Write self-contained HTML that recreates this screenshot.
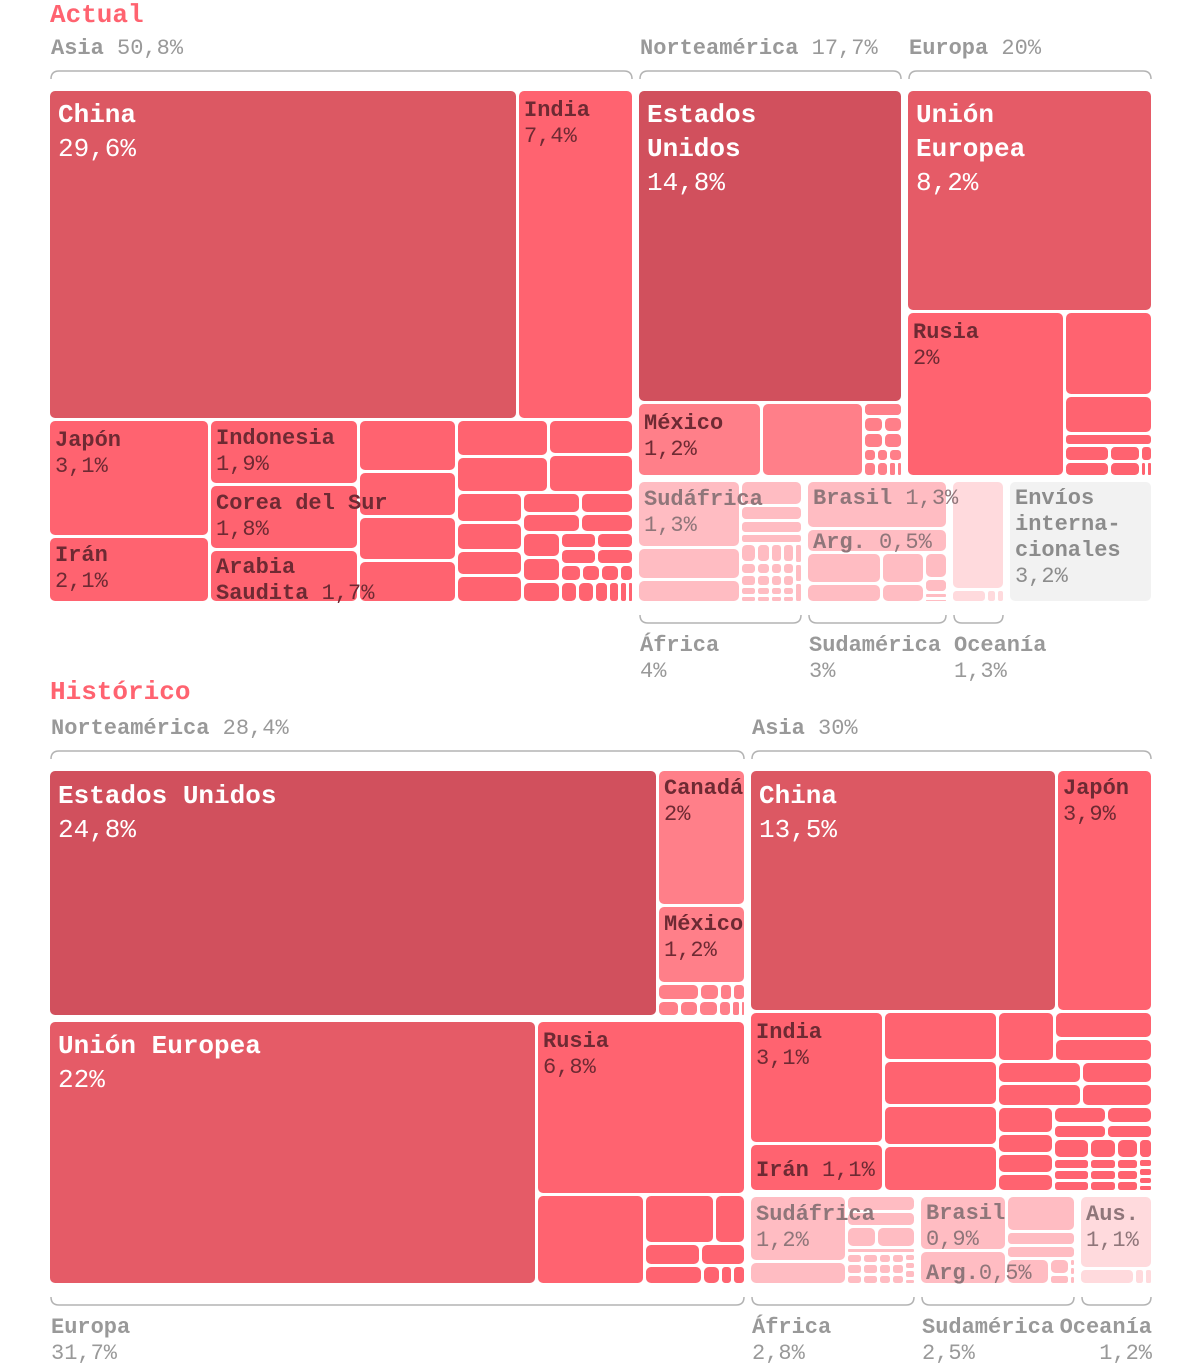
<!DOCTYPE html>
<html><head><meta charset="utf-8">
<style>
html,body{margin:0;padding:0;background:#fff;}
#wrap{position:relative;width:1201px;height:1368px;overflow:hidden;font-family:"Liberation Mono","DejaVu Sans Mono",monospace;}
.cell{position:absolute;box-sizing:border-box;}
.lab{position:absolute;white-space:nowrap;z-index:3;}
.lab b{font-weight:bold;}
.lab span{font-weight:normal;}
.title{position:absolute;left:50px;font-size:26px;font-weight:bold;color:#ff6370;line-height:30px;}
.glab{position:absolute;font-size:22px;color:#999;line-height:26px;white-space:nowrap;}
.glab b{font-weight:bold;}
svg{position:absolute;left:0;top:0;}
</style></head>
<body>
<div id="wrap">
  <div class="title" style="top:0px">Actual</div>
  <div class="title" style="top:677px">Histórico</div>
  <svg id="br" width="1201" height="1368"></svg>
</div>
<script>
// ---- colors ----
const colorMap = {d1:'#d1505d', d2:'#dc5863', d3:'#e55b67', p:'#ff6370', m:'#ff7f89', l:'#ffbcc2', ll:'#ffdadd', g:'#f2f2f2'};
const textMap = {w:'#ffffff', d:'#6e2a33', g:'#8f767a', n:'#8c8c8c'};
// ---- helpers building tree ----
function L(w,c,lab,o){return Object.assign({w:w,c:c,lab:lab},o||{});}
function H(w,k,o){return Object.assign({d:'h',w:w,k:k},o||{});}
function V(w,k,o){return Object.assign({d:'v',w:w,k:k},o||{});}
function lb(fs,col,lines,dy){return {fs:fs,col:col,lines:lines,dy:dy||0};}

// ---- group labels (data) ----
const actualGroups = [
  {name:'Asia', pct:'50,8%', pos:'top'},
  {name:'Norteamérica', pct:'17,7%', pos:'top'},
  {name:'Europa', pct:'20%', pos:'top'},
  {name:'África', pct:'4%', pos:'bottom'},
  {name:'Sudamérica', pct:'3%', pos:'bottom'},
  {name:'Oceanía', pct:'1,3%', pos:'bottom'}
];
const histGroups = [
  {name:'Norteamérica', pct:'28,4%', pos:'top'},
  {name:'Europa', pct:'31,7%', pos:'bottom'},
  {name:'Asia', pct:'30%', pos:'top'},
  {name:'África', pct:'2,8%', pos:'bottom'},
  {name:'Sudamérica', pct:'2,5%', pos:'bottom'},
  {name:'Oceanía', pct:'1,2%', pos:'bottom', right:true}
];

// ---- Actual tree (layout weights) ----
const actualTree = H(0,[
  V(589,[
    H(330,[L(469,'d2',lb(26,'w',[['China'],['','29,6%']])), L(116,'p',lb(22,'d',[['India'],['','7,4%']]))]),
    H(183,[
      V(161,[L(117,'p',lb(22,'d',[['Japón'],['','3,1%']])), L(66,'p',lb(22,'d',[['Irán'],['','2,1%']],-2))]),
      V(149,[L(65,'p',lb(22,'d',[['Indonesia'],['','1,9%']],-2)), L(65,'p',lb(22,'d',[['Corea del Sur'],['','1,8%']],-2)), L(53,'p',lb(22,'d',[['Arabia'],['Saudita',' 1,7%']],-3))]),
      V(98,[L(52),L(45),L(44),L(42)]),
      V(177,[
        H(73,[V(92,[L(37),L(36)]), V(85,[L(35),L(38)])]),
        H(110,[
          V(66,[L(30),L(28),L(25),L(27)]),
          V(111,[
            H(40,[V(57,[L(20),L(19)]),V(52,[L(20),L(19)])]),
            H(70,[V(37,[L(25),L(24),L(21)]), V(72,[H(16,[L(37),L(37)]),H(16,[L(37),L(37)]),H(17,[L(15),L(13),L(13),L(10)]),H(21,[L(12),L(12),L(10),L(8),L(6),L(4)])])])
          ])
        ])
      ])
    ])
  ],{pad:1,g:actualGroups[0],c:'p'}),
  V(519,[
    H(391,[
      V(269,[L(313,'d1',lb(26,'w',[['Estados'],['Unidos'],['','14,8%']])),
             H(74,[L(124,'m',lb(22,'d',[['México'],['','1,2%']])),L(102),
                   V(39,[L(13),H(15,[L(18),L(18)]),H(14,[L(18),L(18)]),H(12,[L(12),L(12),L(13)]),H(14,[L(12),L(12),L(7),L(6)])])])
      ],{pad:1,g:actualGroups[1],c:'m'}),
      V(250,[L(222,'d3',lb(26,'w',[['Unión'],['Europea'],['','8,2%']])),
             H(165,[L(158,'p',lb(22,'d',[['Rusia'],['','2%']])),
                    V(88,[L(82),L(38),L(12),H(15,[L(40),L(28),L(11)]),H(15,[L(40),L(28),L(6),L(5)])])])
      ],{pad:1,g:actualGroups[2],c:'p'})
    ]),
    H(126,[
      H(169,[V(103,[L(67,'l',lb(22,'g',[['Sudáfrica'],['','1,3%']],-2)),L(32),L(23)]),
             V(62,[L(25),L(15),L(13),L(10),H(59,[V(16,[L(16),L(11),L(10),L(8),L(6)]),V(14,[L(16),L(11),L(10),L(8),L(6)]),V(12,[L(16),L(11),L(10),L(8),L(6)]),V(12,[L(16),L(11),L(10),L(8),L(6)]),V(8,[L(5),L(5),L(5)])])])
      ],{pad:1,g:actualGroups[3],c:'l'}),
      V(145,[L(48,'l',lb(22,'g',[['Brasil',' 1,3%']],-3)),L(23,'l',lb(22,'g',[['Arg.',' 0,5%']],-7)),
             H(50,[V(75,[L(31),L(18)]),V(43,[L(31),L(18)]),V(23,[L(26),L(14),L(6),L(4)])])
      ],{pad:1,g:actualGroups[4],c:'l'}),
      V(57,[L(107),H(13,[L(33),L(9),L(8)])],{pad:1,g:actualGroups[5],c:'ll'}),
      L(148,'g',lb(22,'n',[['Envíos'],['interna-'],['cionales'],['','3,2%']],-3),{pad:1})
    ])
  ])
]);

// ---- Historic tree (layout weights) ----
const histTree = H(0,[
  V(701,[
    H(251,[L(609,'d1',lb(26,'w',[['Estados Unidos'],['','24,8%']],1)),
           V(88,[L(136,'m',lb(22,'d',[['Canadá'],['','2%']],-2)),L(78,'m',lb(22,'d',[['México'],['','1,2%']],-2)),
                 V(33,[H(15,[L(39),L(18),L(12),L(12)]),H(14,[L(20),L(18),L(18),L(12),L(8),L(5)])])])
    ],{pad:1,g:histGroups[0],c:'m'}),
    H(268,[L(488,'d3',lb(26,'w',[['Unión Europea'],['','22%']],0)),
           V(209,[L(174,'p',lb(22,'d',[['Rusia'],['','6,8%']])),
                  H(90,[L(108),V(101,[H(49,[L(70),L(31)]),H(22,[L(55),L(45)]),H(19,[L(55),L(17),L(12),L(12)])])])])
    ],{pad:1,g:histGroups[1],c:'p'})
  ]),
  V(407,[
    V(426,[
      H(242,[L(307,'d2',lb(26,'w',[['China'],['','13,5%']],1)),L(96,'p',lb(22,'d',[['Japón'],['','3,9%']],-2))]),
      H(180,[
        V(134,[L(132,'p',lb(22,'d',[['India'],['','3,1%']])),L(48,'p',lb(22,'d',[['Irán',' 1,1%']],6))]),
        V(114,[L(49),L(45),L(40),L(46)]),
        V(155,[
          H(49,[L(57),V(97,[L(25),L(22)])]),
          H(44,[V(84,[L(21),L(21)]),V(71,[L(21),L(21)])]),
          H(84,[V(55,[L(25),L(19),L(18),L(17)]),
                V(97,[H(17,[L(50),L(44)]),H(14,[L(50),L(44)]),H(19,[L(33),L(24),L(20),L(13)]),
                      H(31,[V(33,[L(10),L(10),L(10)]),V(24,[L(10),L(10),L(10)]),V(20,[L(10),L(10),L(10)]),V(13,[L(8),L(8),L(8),L(6)])])])])
        ])
      ])
    ],{pad:1,g:histGroups[2],c:'p'}),
    H(93,[
      H(170,[V(97,[L(67,'l',lb(22,'g',[['Sudáfrica'],['','1,2%']],-2)),L(24)]),
             V(69,[L(16),L(16),H(21,[L(28),L(36)]),L(6),H(32,[V(12,[L(10),L(10),L(10)]),V(12,[L(10),L(10),L(10)]),V(10,[L(10),L(10),L(10)]),V(10,[L(10),L(10),L(10)]),V(8,[L(8),L(8),L(8),L(6)])])])
      ],{pad:1,g:histGroups[3],c:'l'}),
      H(160,[V(87,[L(56,'l',lb(22,'g',[['Brasil'],['','0,9%']],-3)),L(35,'l',lb(22,'g',[['Arg.','0,5%']],2))]),
             V(69,[L(37),L(14),L(13),H(27,[V(40,[L(1)]),V(18,[L(10),L(6)]),V(6,[L(3),L(3),L(3)])])])
      ],{pad:1,g:histGroups[4],c:'l'}),
      V(77,[L(75,'ll',lb(22,'g',[['Aus.'],['','1,1%']],-2)),H(16,[L(55),L(10),L(8)])],{pad:1,g:histGroups[5],c:'ll'})
    ])
  ])
]);

// ---- layout ----
const wrap = document.getElementById('wrap');
const br = document.getElementById('br');
const groupsOut = [];
const labelsOut = [];
function layout(n,x0,y0,x1,y1,c){
  c = n.c || c;
  if(n.pad){x0+=2;y0+=2;x1-=2;y1-=2;}
  if(n.g) groupsOut.push({g:n.g,x0:x0+1.5,x1:x1-1.5,y0:y0+1.5,y1:y1-1.5});
  if(!n.k){ drawCell(x0+1.5,y0+1.5,Math.max(0.5,x1-x0-3),Math.max(0.5,y1-y0-3),c,n.lab); return; }
  let tot=0; n.k.forEach(ch=>tot+=ch.w);
  let p = n.d==='h'?x0:y0;
  const ext = n.d==='h'?(x1-x0):(y1-y0);
  n.k.forEach(ch=>{
    const s = ext*ch.w/tot;
    if(n.d==='h') layout(ch,p,y0,p+s,y1,c); else layout(ch,x0,p,x1,p+s,c);
    p+=s;
  });
}
function drawCell(x,y,w,h,c,lab){
  const d=document.createElement('div');
  d.className='cell';
  
  
  const r=Math.min(5,w/3,h/3);
  d.style.cssText='left:'+x+'px;top:'+y+'px;width:'+w+'px;height:'+h+'px;background:'+colorMap[c]+';border-radius:'+r+'px;';
  wrap.appendChild(d);
  if(lab) labelsOut.push({x:x,y:y,lab:lab});
}
layout(actualTree,46.5,87.5,1154.5,604.5,'p');
layout(histTree,46.5,767.5,1154.5,1286.5,'p');

labelsOut.forEach(o=>{
  const lab=o.lab;
  const t=document.createElement('div');
  t.className='lab';
  
  
  const lh = lab.fs===26?34:26;
  t.style.cssText='left:'+(o.x+(lab.fs===26?8:5))+'px;top:'+(o.y+7+lab.dy)+'px;font-size:'+lab.fs+'px;line-height:'+lh+'px;color:'+textMap[lab.col]+';';
  t.innerHTML = lab.lines.map(l=>'<b>'+l[0]+'</b>'+(l[1]?'<span>'+l[1]+'</span>':'')).join('<br>');
  wrap.appendChild(t);
});

// ---- brackets & group labels ----
const NS='http://www.w3.org/2000/svg';
groupsOut.forEach(o=>{
  const g=o.g;
  const x0=o.x0+1, x1=o.x1;
  const path=document.createElementNS(NS,'path');
  let d, yl;
  if(g.pos==='top'){ yl=o.y0-20; d='M'+x0+','+(yl+8)+' Q'+x0+','+yl+' '+(x0+8)+','+yl+' L'+(x1-8)+','+yl+' Q'+x1+','+yl+' '+x1+','+(yl+8); }
  else { yl=o.y1+22; d='M'+x0+','+(yl-8)+' Q'+x0+','+yl+' '+(x0+8)+','+yl+' L'+(x1-8)+','+yl+' Q'+x1+','+yl+' '+x1+','+(yl-8); }
  path.setAttribute('d',d);
  path.setAttribute('fill','none');
  path.setAttribute('stroke','#b3b3b3');
  path.setAttribute('stroke-width','1.5');
  
  
  br.appendChild(path);
  const t=document.createElement('div');
  t.className='glab';
  
  
  if(g.pos==='top'){
    t.style.top=(yl-35)+'px'; t.style.left=x0+'px';
    t.innerHTML='<b>'+g.name+'</b> '+g.pct;
  } else {
    t.style.top=(yl+10)+'px';
    if(g.right){ t.style.right=(1201-x1-1)+'px'; t.style.textAlign='right'; }
    else t.style.left=x0+'px';
    t.innerHTML='<b>'+g.name+'</b><br>'+g.pct;
  }
  wrap.appendChild(t);
});
</script>
</body></html>
